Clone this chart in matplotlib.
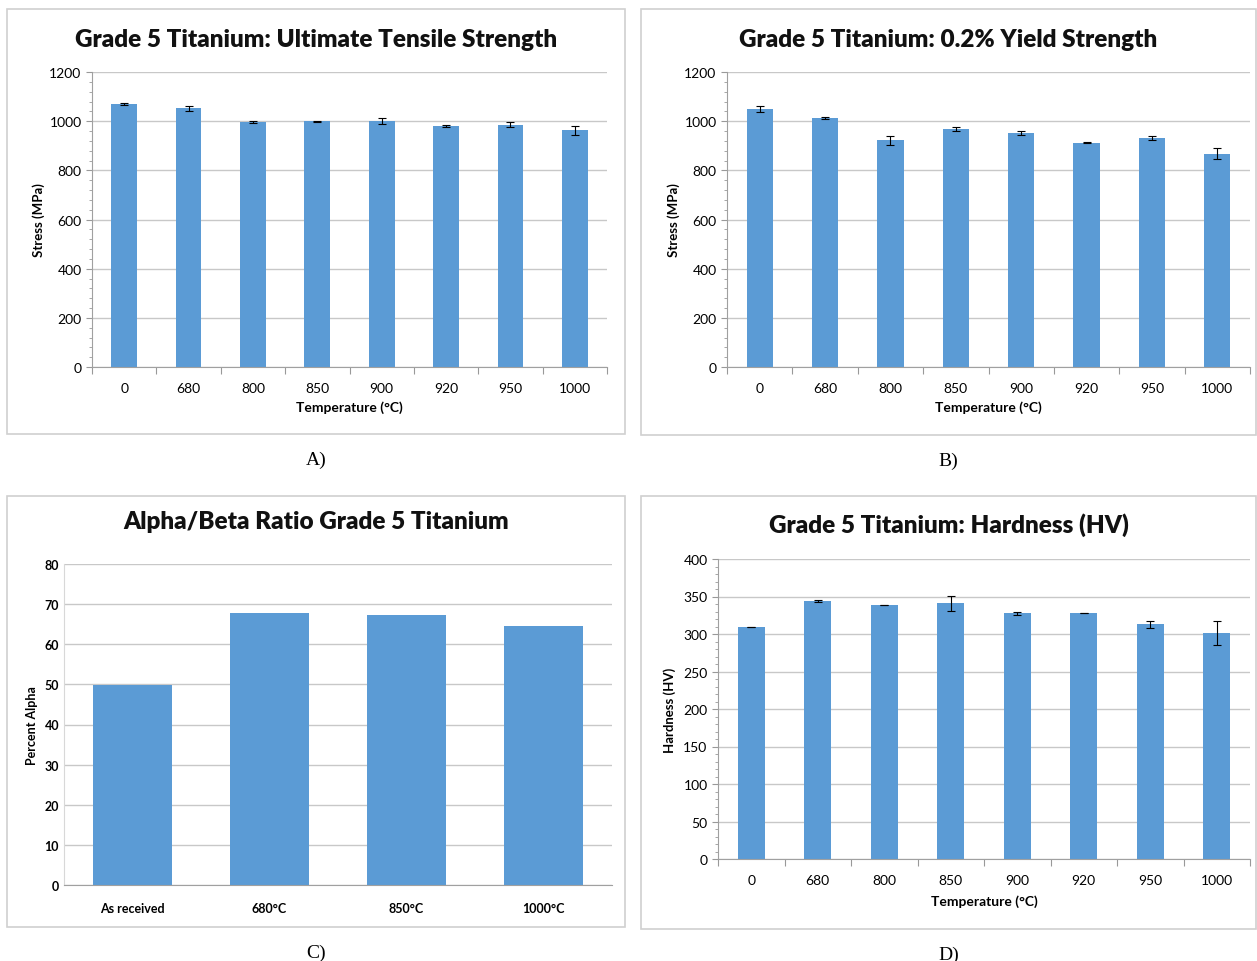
import matplotlib as mpl
mpl.use('Agg')
from matplotlib import pyplot as plt
from matplotlib.patches import Rectangle
import numpy as np

# heat-treatment temperatures (deg C)
temps = ['0', '680', '800', '850', '900', '920', '950', '1000']

uts = [1070, 1052, 997, 1000, 1000, 980, 985, 963]
uts_err = [4, 11, 3, 2, 13, 3, 10, 18]

yield_str = [1050, 1013, 922, 967, 952, 912, 930, 868]
yield_err = [11, 3, 17, 9, 7, 2, 8, 21]

phase_labels = ['As received', '680°C', '850°C', '1000°C']
pct_alpha = [49.8, 67.8, 67.3, 64.6]

hardness = [309, 344, 339, 341, 328, 328, 313, 302]
hardness_err = [0, 1, 0, 10, 2, 0, 5, 16]

BLUE = '#5B9BD5'
GRID = '#C8C8C8'
FONT = 'Lato'

plt.rcParams['font.family'] = [FONT, 'DejaVu Sans']
fig = plt.figure(figsize=(12.57, 9.62), dpi=100)
W, H = 1257.0, 962.0


def px_axes(left, top, right, bottom):
    return fig.add_axes([left / W, 1 - bottom / H, (right - left) / W, (bottom - top) / H])


def frame(x0, y0, x1, y1, title, ty, tag):
    fig.patches.append(Rectangle((x0 / W, 1 - y1 / H), (x1 - x0) / W, (y1 - y0) / H,
                                 transform=fig.transFigure, fill=False,
                                 edgecolor='#D0D0D0', linewidth=1.2))
    fig.text((x0 + x1) / 2 / W, 1 - ty / H, title, ha='center', va='center',
             fontsize=17.5, fontweight='heavy', color='#111111')
    fig.text((x0 + x1) / 2 / W, 1 - (y1 + 25) / H, tag, ha='center', va='center',
             fontsize=14, family='Liberation Serif')


def style(ax, labels, ymax, ystep, minor=True, sep_ticks=True):
    n = len(labels)
    ax.set_xlim(-0.5, n - 0.5)
    ax.set_ylim(0, ymax)
    ax.set_yticks(np.arange(0, ymax + 1, ystep))
    if minor:
        ax.set_yticks(np.arange(0, ymax + 1, ystep / 5), minor=True)
        ax.tick_params(axis='y', which='minor', length=2.5, color='#999999')
    ax.set_xticks(np.arange(-0.5, n, 1.0))
    ax.set_xticklabels([])
    ax.set_xticks(np.arange(n), minor=True)
    ax.set_xticklabels(labels, minor=True)
    ax.tick_params(axis='x', which='major', length=5 if sep_ticks else 0, color='#999999')
    ax.tick_params(axis='x', which='minor', length=0, pad=11)
    ax.tick_params(axis='y', which='major', length=4, color='#999999', labelsize=10)
    ax.tick_params(axis='x', labelsize=10)
    ax.grid(axis='y', color=GRID, linewidth=1)
    ax.set_axisbelow(True)
    for s in ['top', 'right']:
        ax.spines[s].set_visible(False)
    for s in ['left', 'bottom']:
        ax.spines[s].set_color('#A0A0A0')


# A) ultimate tensile strength
frame(7, 10, 625, 435, 'Grade 5 Titanium: Ultimate Tensile Strength', 40, 'A)')
ax1 = px_axes(92, 73, 607, 368)
x = np.arange(len(temps))
ax1.bar(x, uts, width=0.4, color=BLUE, yerr=uts_err, capsize=3,
        error_kw=dict(ecolor='black', elinewidth=0.8, capthick=0.8))
style(ax1, temps, 1200, 200)
ax1.set_xlabel('Temperature (°C)', fontsize=10, fontweight='bold', labelpad=4)
ax1.set_ylabel('Stress (MPa)', fontsize=9.5, fontweight='bold', labelpad=3)

# B) yield strength
frame(641, 10, 1256, 436, 'Grade 5 Titanium: 0.2% Yield Strength', 40, 'B)')
ax2 = px_axes(727, 73, 1250, 368)
ax2.bar(x, yield_str, width=0.4, color=BLUE, yerr=yield_err, capsize=3,
        error_kw=dict(ecolor='black', elinewidth=0.8, capthick=0.8))
style(ax2, temps, 1200, 200)
ax2.set_xlabel('Temperature (°C)', fontsize=10, fontweight='bold', labelpad=4)
ax2.set_ylabel('Stress (MPa)', fontsize=9.5, fontweight='bold', labelpad=3)

# C) alpha phase fraction
frame(7, 497, 625, 928, 'Alpha/Beta Ratio Grade 5 Titanium', 522, 'C)')
ax3 = px_axes(64, 565, 612, 886)
xc = np.arange(len(phase_labels))
ax3.bar(xc, pct_alpha, width=0.58, color=BLUE)
style(ax3, phase_labels, 80, 10, minor=False, sep_ticks=False)
ax3.tick_params(axis='y', length=0)
ax3.tick_params(axis='x', which='minor', pad=12)
for t in ax3.get_yticklabels() + ax3.get_xticklabels(minor=True):
    t.set_fontweight('bold')
    t.set_fontsize(9)
ax3.spines['left'].set_color('#D8D8D8')
ax3.set_ylabel('Percent Alpha', fontsize=9, fontweight='bold', labelpad=5)

# D) hardness
frame(641, 497, 1256, 930, 'Grade 5 Titanium: Hardness (HV)', 525, 'D)')
ax4 = px_axes(718, 560, 1250, 860)
ax4.bar(x, hardness, width=0.4, color=BLUE, yerr=hardness_err, capsize=3,
        error_kw=dict(ecolor='black', elinewidth=0.8, capthick=0.8))
style(ax4, temps, 400, 50)
ax4.set_xlabel('Temperature (°C)', fontsize=10, fontweight='bold', labelpad=6)
ax4.set_ylabel('Hardness (HV)', fontsize=9.5, fontweight='bold', labelpad=5)

plt.savefig('out.png', dpi=100)
